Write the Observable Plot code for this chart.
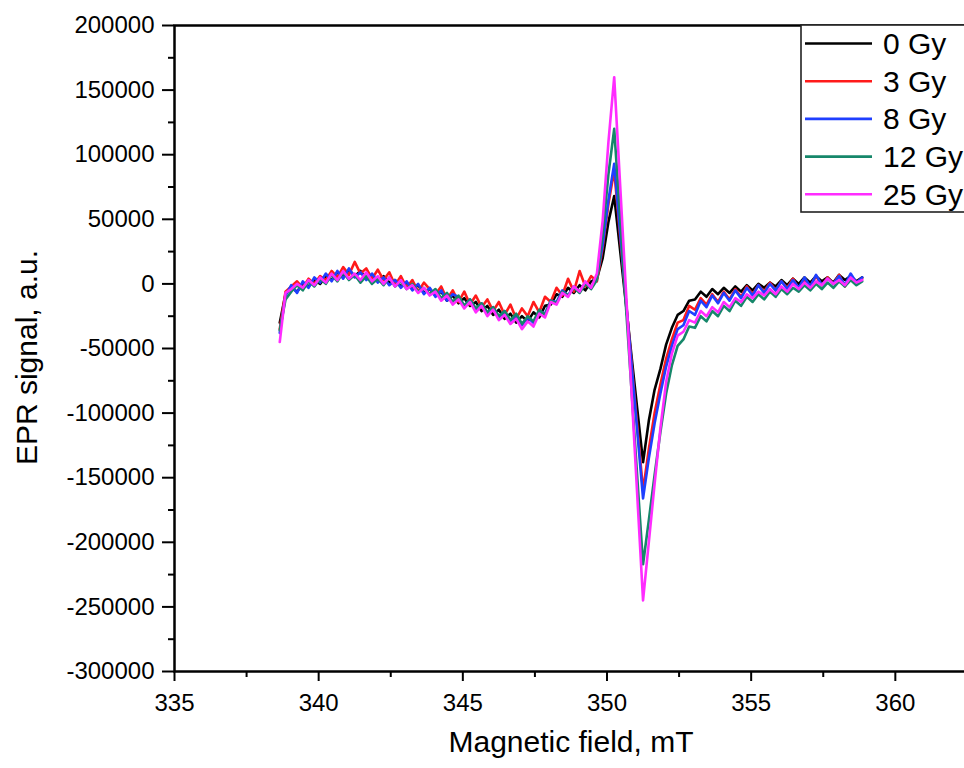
<!DOCTYPE html>
<html><head><meta charset="utf-8">
<script src="https://cdn.jsdelivr.net/npm/d3@7"></script>
<script src="https://cdn.jsdelivr.net/npm/@observablehq/plot@0.6"></script>
<style>
html,body{margin:0;padding:0;overflow:hidden;background:#fff;width:964px;height:768px;}
#wrap{position:relative;width:964px;height:768px;overflow:hidden;}
#wrap svg{display:block;max-width:none !important;}
</style></head><body><div id="wrap"></div>
<script>
// Magnetic field sweep (mT), 0.2 mT sampling
const fieldStart = 338.65, fieldStep = 0.2, fieldCount = 102;
const field = d3.range(fieldCount).map(k => +(fieldStart + fieldStep * k).toFixed(2));

// EPR signal values, in thousands of a.u.
const signal0Gy = [-30,-8,-3,-6,0,-2,3,0,6,3, 9,5,11,6,10,4,7,2,6,1, 3,-2,1,-4,-1,-7,-4,-9,-6,-13,
 -9,-15,-11,-17,-14,-21,-17,-24,-20,-27, -23,-30,-25,-29,-22,-26,-17,-16,-8,-10,
 -3,-7,-1,-5,2,4,20,48,68,27, -14,-56,-97,-138,-106,-82,-66,-47,-34,-24,
 -21,-13,-12,-6,-10,-4,-8,-3,-7,-2, -6,-1,-5,0,-3,1,-2,3,-1,4, 0,5,1,6,2,5,1,7,3,6, 2,5];
const signal3Gy = [-35,-6,-2,2,-3,4,0,6,3,10, 5,13,7,17,8,12,4,11,3,9, -1,6,-3,3,-6,1,-4,-8,-2,-12,
 -5,-14,-6,-16,-9,-18,-12,-21,-14,-24, -16,-27,-19,-25,-14,-22,-10,-14,-3,-9,
 4,-6,10,-2,6,2,28,62,88,38, -11,-61,-110,-160,-128,-100,-78,-58,-43,-30,
 -28,-17,-20,-11,-16,-8,-14,-6,-12,-4, -10,-2,-8,-1,-6,1,-5,2,-3,4, -4,3,-2,6,-1,5,0,7,-2,6, 1,4];
const signal8Gy = [-38,-9,-1,-7,2,-3,5,1,8,2, 10,4,12,5,9,3,8,1,5,-1, 3,-3,2,-5,0,-8,-3,-10,-5,-13,
 -8,-10,-17,-12,-20,-15,-23,-18,-26,-21, -29,-24,-32,-26,-30,-21,-23,-13,-14,-5,
 -9,-2,-6,1,-3,5,30,65,93,41, -11,-62,-114,-166,-135,-108,-85,-64,-48,-35,
 -32,-21,-24,-13,-18,-9,-15,-7,-13,-5, -11,-3,-9,-1,-7,0,-5,2,-4,3, -3,5,-2,7,-1,4,0,6,-1,8, 1,5];
const signal12Gy = [-36,-12,-6,-1,-5,2,-2,4,0,7, 2,9,3,7,1,6,0,4,-1,5, -2,2,-4,0,-6,-3,-8,-4,-11,-7,
 -14,-9,-17,-12,-19,-15,-22,-18,-25,-21, -28,-23,-31,-25,-29,-20,-24,-13,-15,-6,
 -9,-3,-7,0,-4,3,38,85,120,53, -15,-82,-150,-217,-183,-148,-115,-85,-63,-48,
 -43,-33,-34,-25,-29,-21,-25,-17,-21,-13, -17,-10,-14,-8,-12,-6,-10,-4,-8,-3, -6,-1,-5,0,-4,1,-3,2,-2,3, -1,2];
const signal25Gy = [-45,-7,-4,0,-3,3,-1,5,1,8, 3,10,4,8,3,9,2,6,0,5, -2,3,-4,-1,-7,-3,-9,-6,-13,-9,
 -16,-12,-19,-14,-22,-17,-25,-20,-28,-24, -31,-27,-35,-29,-33,-23,-26,-14,-16,-7,
 -10,-2,-6,2,-3,8,49,110,160,79, -2,-83,-164,-245,-200,-155,-112,-76,-54,-40,
 -37,-28,-30,-21,-25,-18,-22,-14,-18,-11, -14,-8,-11,-6,-9,-4,-8,-2,-6,0, -4,1,-3,2,-1,4,0,3,-1,5, 1,3];

const doses = ["0 Gy", "3 Gy", "8 Gy", "12 Gy", "25 Gy"];
const doseColors = ["#000000", "#ff1a1a", "#1f3fff", "#16876a", "#ff2cff"];
const seriesValues = [signal0Gy, signal3Gy, signal8Gy, signal12Gy, signal25Gy];

const xDomain = [335, 365];
const yDomain = [-300000, 200000];
const xMajorTicks = [335, 340, 345, 350, 355, 360];
const xMinorTicks = [337.5, 342.5, 347.5, 352.5, 357.5];
const yMajorTicks = [-300000, -250000, -200000, -150000, -100000, -50000, 0, 50000, 100000, 150000, 200000];
const yMinorTicks = [-275000, -225000, -175000, -125000, -75000, -25000, 25000, 75000, 125000, 175000];
const xTitle = "Magnetic field, mT";
const yTitle = "EPR signal, a.u.";

const rows = [];
doses.forEach((dose, s) => {
  field.forEach((f, i) => rows.push({field: f, signal: seriesValues[s][i] * 1000, dose}));
});

const chart = Plot.plot({
  width: 1049, height: 768,
  marginLeft: 174, marginRight: 10, marginTop: 25, marginBottom: 97,
  style: {fontFamily: "'Liberation Sans', Arial, sans-serif", fontSize: "24px", color: "#000", background: "transparent", overflow: "visible", maxWidth: "none"},
  x: {domain: xDomain},
  y: {domain: yDomain},
  color: {domain: doses, range: doseColors},
  marks: [
    Plot.line(rows, {x: "field", y: "signal", z: "dose", stroke: "dose", strokeWidth: 2.6, strokeLinejoin: "round"}),
    Plot.axisY({ticks: yMajorTicks, tickSize: 12, tickPadding: 8, tickFormat: d => String(d), label: null, strokeWidth: 2, fontSize: 24}),
    Plot.axisY({ticks: yMinorTicks, tickSize: 6, tickFormat: () => "", label: null, strokeWidth: 2}),
    Plot.axisX({ticks: xMajorTicks, tickSize: 10, tickPadding: 12, tickFormat: d => String(d), label: null, strokeWidth: 2, fontSize: 24}),
    Plot.axisX({ticks: xMinorTicks, tickSize: 6, tickFormat: () => "", label: null, strokeWidth: 2}),
    Plot.frame({stroke: "#000", strokeWidth: 2.5}),
    Plot.text([yTitle], {frameAnchor: "left", textAnchor: "middle", rotate: -90, dx: -147, dy: 9, fontSize: 30, fill: "#000"}),
    Plot.text([xTitle], {frameAnchor: "bottom", textAnchor: "middle", dx: -36, dy: 80, fontSize: 30, fill: "#000"})
  ]
});
chart.style.maxWidth = "none";
const wrap = document.getElementById("wrap");
wrap.appendChild(chart);

// Legend box (partly cut off at the right edge, as in the original)
const leg = d3.select(wrap).append("svg")
  .attr("width", 964).attr("height", 768)
  .style("position", "absolute").style("left", "0px").style("top", "0px")
  .style("font-family", "'Liberation Sans', Arial, sans-serif");
leg.append("rect").attr("x", 801).attr("y", 25).attr("width", 260).attr("height", 187)
  .attr("fill", "#fff").attr("stroke", "#222").attr("stroke-width", 1.6);
doses.forEach((d, i) => {
  const cy = 43.5 + i * 37.7;
  leg.append("line").attr("x1", 805).attr("x2", 872).attr("y1", cy).attr("y2", cy)
    .attr("stroke", doseColors[i]).attr("stroke-width", 2.6);
  leg.append("text").attr("x", 883).attr("y", cy + 10.5).attr("font-size", 30).attr("fill", "#000").text(d);
});
</script></body></html>
